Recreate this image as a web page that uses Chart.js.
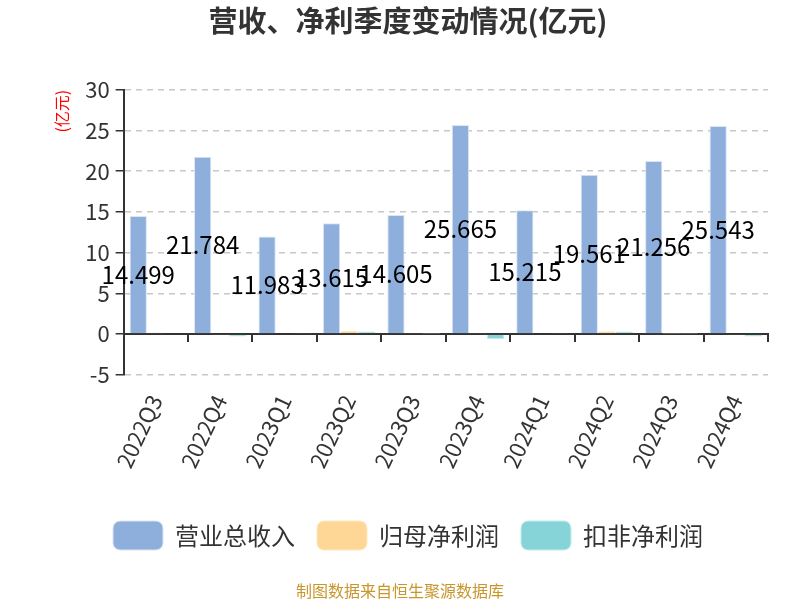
<!DOCTYPE html>
<html lang="zh">
<head>
<meta charset="UTF-8">
<title>营收、净利季度变动情况</title>
<script src="https://cdn.jsdelivr.net/npm/chart.js"></script>
<style>
    body { margin: 0; background: #fff; }
    .wrap { position: relative; width: 800px; height: 600px; }
    .fuente {
        position: absolute; left: 0; right: 0; top: 578px;
        text-align: center; font: 16px "Noto Sans CJK SC", sans-serif; color: #c8962a;
    }
</style>
</head>
<body>
<div class="wrap">
    <canvas id="grafic" width="800" height="600"></canvas>
    <div class="fuente">制图数据来自恒生聚源数据库</div>
</div>
<script>
    const trimestres = ['2022Q3', '2022Q4', '2023Q1', '2023Q2', '2023Q3', '2023Q4', '2024Q1', '2024Q2', '2024Q3', '2024Q4'];
    const ingressos = [14.499, 21.784, 11.983, 13.615, 14.605, 25.665, 15.215, 19.561, 21.256, 25.543];
    const beneficiNet = [0.2, -0.15, 0.1, 0.4, 0.05, 0.12, 0.1, 0.35, 0.02, -0.05];
    const beneficiRecurrent = [0.1, -0.3, 0.05, 0.3, 0.03, -0.6, 0.05, 0.3, 0.02, -0.3];
    const ticksY = [-5, 0, 5, 10, 15, 20, 25, 30];

    const fontCJK = '"Noto Sans CJK SC", "Noto Sans", sans-serif';

    // etiquetes al mig de les barres d'ingressos
    const etiquetes = {
        id: 'etiquetes',
        afterDatasetsDraw(chart) {
            const ctx = chart.ctx;
            const meta = chart.getDatasetMeta(0);
            ctx.save();
            ctx.font = '24px ' + fontCJK;
            ctx.fillStyle = '#000';
            ctx.textAlign = 'center';
            ctx.textBaseline = 'middle';
            meta.data.forEach((bar, i) => {
                ctx.fillText(ingressos[i].toFixed(3), bar.x, (bar.y + bar.base) / 2);
            });
            ctx.restore();
        }
    };

    const ctx = document.getElementById('grafic').getContext('2d');
    new Chart(ctx, {
        type: 'bar',
        data: {
            labels: trimestres,
            datasets: [
                { label: '营业总收入', data: ingressos, backgroundColor: '#8eaedb', borderColor: '#dbe5f4', borderWidth: 1 },
                { label: '归母净利润', data: beneficiNet, backgroundColor: '#fed796', borderColor: '#fee8c4', borderWidth: 1 },
                { label: '扣非净利润', data: beneficiRecurrent, backgroundColor: '#87d4d8', borderColor: '#c3ebed', borderWidth: 1 }
            ]
        },
        options: {
            responsive: false,
            animation: false,
            categoryPercentage: 0.82,
            barPercentage: 0.98,
            layout: { padding: { left: 48, right: 32, top: 0, bottom: 40 } },
            plugins: {
                title: {
                    display: true,
                    text: '营收、净利季度变动情况(亿元)',
                    color: '#333',
                    font: { size: 29, weight: 'bold', family: fontCJK },
                    padding: { top: 4, bottom: 51 }
                },
                legend: {
                    position: 'bottom',
                    labels: {
                        boxWidth: 50,
                        boxHeight: 29,
                        useBorderRadius: true,
                        borderRadius: 7,
                        color: '#333',
                        font: { size: 24, family: fontCJK },
                        padding: 22
                    }
                },
                tooltip: { enabled: false }
            },
            scales: {
                x: {
                    position: { y: 0 },
                    offset: true,
                    ticks: { display: false },
                    grid: { offset: true, drawOnChartArea: false, drawTicks: true, tickLength: 7, color: '#333', lineWidth: 2 },
                    border: { color: '#333', width: 2 }
                },
                x2: {
                    type: 'category',
                    position: 'bottom',
                    offset: true,
                    labels: trimestres,
                    grid: { display: false },
                    border: { display: false },
                    afterFit: axis => { axis.height += 19; },
                    ticks: {
                        minRotation: 65,
                        maxRotation: 65,
                        color: '#333',
                        padding: 8,
                        font: { size: 22, family: fontCJK }
                    }
                },
                y: {
                    min: -5,
                    max: 30,
                    afterBuildTicks: axis => { axis.ticks = ticksY.map(v => ({ value: v })); },
                    title: {
                        display: true,
                        text: '(亿元)',
                        color: '#ff0000',
                        align: 'end',
                        font: { size: 16, family: fontCJK },
                        padding: { bottom: 8 }
                    },
                    ticks: { color: '#333', font: { size: 22, family: fontCJK }, padding: 6 },
                    grid: { color: '#c8c8c8', tickColor: '#333', tickLength: 8, lineWidth: 1.5 },
                    border: { color: '#333', width: 2, dash: [6, 5] }
                }
            }
        },
        plugins: [etiquetes]
    });
</script>
</body>
</html>
